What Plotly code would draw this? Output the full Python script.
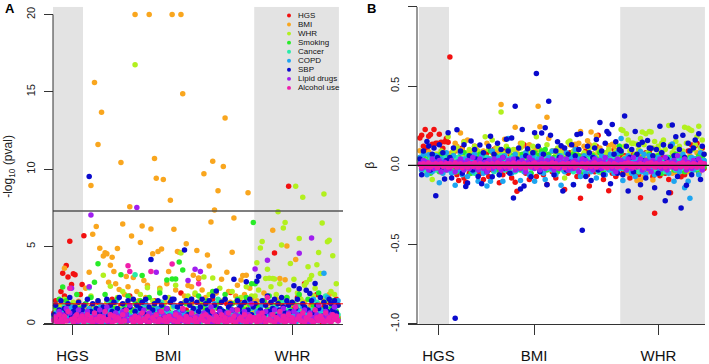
import plotly.graph_objects as go

# ---------------- data ----------------
traits = ["HGS", "BMI", "WHR", "Smoking", "Cancer", "COPD", "SBP", "Lipid drugs", "Alcohol use"]
colors = ["#F21010", "#F9A61E", "#B2F01E", "#28EB28", "#28EBAA", "#1EA5F0", "#0A0ACD", "#A01EF0", "#F01EAA"]
groups = ["HGS", "BMI", "WHR"]
group_sizes = [17, 97, 48]          # SNPs per instrument group (HGS, BMI, WHR)
y_ticks_a = [0, 5, 10, 15, 20]
y_ticks_b = [-1.0, -0.5, 0.0, 0.5, 1.0]
y_ticktext_b = ["-1.0", "-0.5", "0.0", "0.5", "1.0"]
gw_threshold = 7.3                  # -log10(5e-8)
nominal_threshold = 1.3             # -log10(0.05)

# Panel A: -log10(p) per trait, one value per SNP (HGS SNPs, BMI SNPs, WHR SNPs)
nlp_hgs = [0.7, 1.5, 0.4, 1.1, 2.1, 3.28, 1.8, 3.78, 3.03, 5.35, 2.55, 3.24, 3.18, 1.3, 0.6, 1.9, 2.55,
           5.7, 0.3, 0.9, 0.2, 1.1, 0.5, 0.1, 0.7, 1.4, 0.3,
           0.6, 0.2, 1.0, 0.4, 0.8, 0.1, 1.6, 0.3, 0.5, 0.9,
           0.2, 1.2, 0.4, 0.7, 0.1, 0.6, 1.8, 0.3, 0.9, 0.2,
           0.5, 1.3, 0.1, 0.8, 0.4, 0.6, 1.1, 0.2, 0.7, 0.3,
           1.5, 0.4, 0.2, 0.9, 0.6, 0.1, 1.0, 0.3, 0.8, 0.5,
           0.2, 1.2, 0.4, 0.7, 0.1, 2.0, 0.5, 0.3, 0.9, 0.6,
           0.2, 1.4, 0.4, 0.8, 0.1, 2.93, 0.5, 1.1, 0.3, 0.7,
           0.2, 0.9, 0.4, 1.6, 0.6, 0.1, 1.0, 0.3, 0.5, 0.8,
           0.2, 1.3, 0.4, 2.03, 0.6, 0.1, 0.9, 0.3, 1.5, 0.5,
           0.2, 1.1, 0.4, 0.7, 0.1, 1.7, 0.3,
           0.4, 1.2, 0.2, 0.8, 0.5, 1.5, 0.1, 0.6, 0.9, 0.3,
           1.1, 4.58, 0.2, 0.7, 0.4, 1.3, 0.1, 0.8, 0.5, 8.9,
           0.3, 1.0, 0.6, 0.2, 1.7, 0.4, 0.9, 0.1, 2.6, 0.5,
           0.7, 0.3, 1.2, 0.6, 0.2, 1.9, 0.4, 0.8, 0.1, 1.1,
           0.5, 0.3, 1.4, 0.2, 0.9, 0.6, 1.6, 0.4]
nlp_bmi = [0.5, 1.2, 0.3, 0.9, 0.6, 1.4, 3.6, 0.2, 0.8, 1.1, 0.4, 0.7, 1.3, 0.3, 1.46, 0.9, 0.5,
           1.1, 2.3, 0.8, 3.34, 8.95, 5.79, 15.6, 6.29, 11.6, 4.89,
           13.69, 4.39, 4.6, 4.53, 2.7, 3.8, 4.31, 3.39, 2.6, 4.87,
           2.22, 10.43, 6.46, 1.9, 3.07, 2.4, 7.57, 5.68, 3.0, 20.0,
           2.1, 1.5, 5.27, 6.33, 2.8, 1.7, 2.5, 20.0, 6.14, 4.53,
           10.7, 9.42, 4.68, 2.3, 4.85, 9.34, 1.4, 2.6, 3.39, 8.0,
           20.0, 6.12, 2.2, 4.68, 4.64, 20.0, 14.88, 1.8, 5.18, 2.49,
           1.6, 2.4, 3.15, 1.9, 4.74, 2.97, 1.3, 2.2, 9.7, 1.7,
           4.45, 3.74, 6.58, 10.51, 7.36, 2.0, 8.61, 1.5, 2.88, 10.18,
           13.31, 3.34, 2.1, 1.4, 4.64, 6.85, 1.8, 2.5, 1.2, 2.84,
           3.13, 1.9, 3.15, 8.48, 2.3, 1.6, 0.9,
           0.8, 1.5, 0.3, 1.1, 0.6, 2.0, 0.4, 0.9, 1.3, 0.2,
           6.06, 0.7, 1.6, 0.5, 2.93, 0.3, 1.0, 2.86, 5.03, 0.6,
           1.2, 0.4, 0.8, 4.16, 0.2, 1.7, 0.5, 0.9, 1.4, 0.3,
           0.7, 1.1, 0.2, 1.8, 0.6, 0.4, 1.3, 0.9, 0.3, 1.5,
           0.5, 0.8, 1.9, 0.2, 1.0, 0.6, 1.2, 0.4]
nlp_whr = [0.3, 0.8, 0.2, 1.2, 0.5, 0.9, 1.6, 0.4, 0.7, 1.0, 0.3, 1.4, 0.6, 0.2, 1.1, 0.5, 0.8,
           0.6, 1.3, 0.3, 0.9, 1.8, 0.4, 1.1, 0.2, 1.5, 0.7,
           0.5, 3.15, 0.9, 1.4, 0.3, 2.44, 0.8, 1.2, 0.4, 1.7,
           0.6, 1.0, 2.1, 0.3, 1.3, 0.5, 0.9, 1.6, 0.2, 16.76,
           1.1, 0.4, 1.9, 0.7, 0.3, 1.2, 2.34, 0.5, 0.9, 1.5,
           0.2, 1.0, 0.6, 2.2, 0.4, 1.3, 0.8, 0.3, 1.7, 0.5,
           1.1, 0.4, 2.5, 0.7, 0.2, 4.58, 0.9, 1.4, 0.3, 1.8,
           0.6, 1.2, 0.4, 2.0, 0.8, 0.3, 1.5, 0.5, 3.03, 1.0,
           0.4, 1.9, 0.7, 2.97, 0.2, 1.3, 0.6, 2.3, 0.9, 0.4,
           1.6, 0.3, 1.1, 0.7, 2.1, 0.5, 1.4, 0.2, 0.8, 1.7,
           0.4, 1.2, 2.4, 0.6, 0.9, 1.8, 1.3,
           1.8, 3.95, 2.2, 4.91, 5.33, 1.5, 2.93, 3.53, 2.95, 2.4,
           2.93, 2.9, 1.9, 7.25, 2.6, 5.1, 6.2, 6.56, 1.7, 2.2,
           3.91, 1.4, 2.88, 8.9, 2.0, 5.52, 1.6, 8.19, 2.5, 2.68,
           3.7, 2.88, 3.13, 1.8, 2.3, 3.82, 4.62, 3.26, 6.52, 8.4,
           1.5, 5.31, 5.41, 2.1, 4.41, 1.9, 2.6, 1.2]
nlp_smk = [0.4, 1.1, 0.6, 1.6, 0.2, 2.38, 0.9, 1.5, 0.3, 0.7, 1.2, 0.5, 0.8, 1.9, 0.3, 1.0, 0.6,
           0.5, 1.3, 0.2, 0.9, 1.7, 0.4, 2.7, 0.8, 3.89, 0.3,
           1.1, 0.6, 1.9, 0.2, 0.7, 1.4, 0.4, 1.0, 0.5, 1.6,
           0.3, 3.18, 0.8, 1.2, 0.2, 1.8, 0.6, 0.9, 0.4, 1.3,
           0.7, 0.2, 1.5, 3.13, 0.5, 1.0, 0.3, 1.7, 0.6, 0.9,
           1.2, 0.4, 0.8, 2.0, 0.3, 1.1, 0.5, 2.84, 0.7, 1.4,
           2.9, 0.6, 2.9, 0.2, 4.01, 0.9, 3.49, 0.4, 1.3, 0.7,
           0.3, 1.6, 0.5, 1.0, 0.2, 1.8, 0.6, 1.2, 0.4, 0.9,
           1.5, 0.3, 0.8, 2.1, 0.5, 1.1, 0.2, 1.4, 0.7, 0.4,
           1.9, 0.6, 1.0, 0.3, 1.3, 0.8, 0.2, 1.6, 0.5, 1.1,
           0.4, 0.9, 1.7, 0.3, 1.2, 2.59, 6.56,
           2.6, 0.4, 1.1, 0.7, 0.2, 1.5, 0.5, 0.9, 1.8, 0.3,
           0.6, 1.2, 0.2, 0.8, 1.4, 0.4, 1.0, 0.3, 1.7, 0.5,
           0.9, 0.2, 1.3, 0.6, 0.4, 1.9, 0.7, 0.3, 1.1, 0.5,
           1.6, 0.2, 0.8, 1.2, 0.4, 0.6, 2.0, 0.3, 0.9, 1.4,
           0.5, 0.7, 0.2, 1.0, 1.5, 0.4, 0.8, 0.3]
nlp_can = [0.2, 0.6, 0.4, 0.9, 0.1, 0.5, 1.2, 0.3, 0.7, 0.2, 0.8, 0.4, 1.0, 0.1, 0.6, 0.3, 0.5,
           0.4, 0.8, 0.1, 2.34, 0.5, 0.3, 0.9, 0.2, 0.6, 1.1,
           0.3, 0.7, 0.1, 0.5, 1.3, 0.2, 0.4, 0.8, 0.3, 0.6,
           0.1, 0.9, 0.4, 0.2, 0.7, 1.0, 0.3, 0.5, 0.1, 3.18,
           0.6, 0.2, 0.8, 0.4, 1.2, 0.3, 0.5, 0.1, 0.7, 0.4,
           0.9, 0.2, 0.6, 0.3, 1.4, 0.5, 0.1, 0.8, 0.4, 0.2,
           0.7, 1.1, 0.3, 0.5, 0.2, 0.9, 0.4, 0.6, 0.1, 1.5,
           0.3, 0.8, 0.2, 0.5, 1.0, 0.4, 0.1, 0.7, 0.3, 0.6,
           1.2, 0.2, 0.5, 0.9, 0.3, 0.4, 1.6, 0.1, 0.6, 0.8,
           0.2, 0.5, 1.1, 0.3, 0.7, 0.4, 0.1, 0.9, 0.6, 0.2,
           1.3, 0.4, 0.8, 0.3, 0.5, 1.0, 0.2,
           0.5, 0.2, 0.9, 0.4, 1.3, 0.1, 0.6, 0.3, 0.8, 0.2,
           1.1, 0.5, 0.3, 0.7, 0.1, 0.4, 1.5, 0.6, 0.2, 0.9,
           0.3, 0.8, 0.5, 0.1, 1.2, 0.4, 0.7, 0.2, 0.6, 1.0,
           0.3, 0.5, 0.9, 0.1, 0.4, 1.4, 0.2, 0.7, 0.3, 0.6,
           1.8, 0.2, 0.5, 0.8, 0.3, 1.1, 0.4, 0.6]
nlp_copd = [0.3, 0.7, 0.1, 0.5, 0.9, 0.2, 0.4, 0.8, 0.3, 0.6, 1.1, 0.2, 0.5, 0.7, 0.1, 0.4, 0.9,
            0.2, 0.6, 0.4, 1.0, 0.1, 0.5, 0.3, 0.8, 0.2, 0.7,
            1.2, 0.4, 0.1, 0.6, 0.3, 0.9, 0.2, 0.5, 1.4, 0.3,
            0.7, 0.1, 0.4, 0.8, 0.2, 0.6, 1.1, 0.3, 0.5, 0.1,
            0.9, 0.4, 0.2, 0.7, 0.3, 1.3, 0.5, 0.1, 0.6, 0.8,
            0.2, 0.4, 1.0, 0.3, 0.7, 0.1, 0.5, 0.9, 0.2, 0.6,
            0.4, 1.2, 0.3, 0.1, 0.8, 0.5, 0.2, 0.7, 1.5, 0.3,
            0.6, 0.1, 0.4, 0.9, 0.2, 0.5, 1.1, 0.3, 0.7, 0.2,
            0.4, 0.8, 0.1, 0.6, 1.3, 0.3, 0.5, 0.2, 0.9, 0.4,
            0.1, 0.7, 0.3, 1.0, 0.5, 0.2, 0.6, 0.4, 1.2, 0.1,
            0.8, 0.3, 0.5, 0.2, 1.4, 0.6, 0.4,
            0.3, 0.8, 0.1, 0.5, 1.2, 0.4, 0.2, 0.7, 0.3, 0.9,
            0.5, 0.1, 1.0, 0.4, 0.6, 0.2, 0.8, 0.3, 1.3, 0.5,
            0.2, 0.7, 0.4, 0.1, 0.9, 0.6, 0.3, 1.1, 0.2, 0.5,
            0.8, 0.4, 0.1, 1.6, 0.3, 0.6, 0.2, 0.9, 0.5, 3.28,
            0.4, 1.7, 0.2, 0.7, 0.3, 1.0, 0.5, 1.5]
nlp_sbp = [0.6, 1.2, 0.4, 0.9, 1.5, 0.3, 1.0, 0.7, 1.3, 1.71, 0.5, 0.8, 1.1, 0.4, 1.4, 0.6, 0.9,
           1.2, 0.5, 1.6, 9.53, 0.8, 1.3, 0.4, 1.0, 1.5, 0.7,
           0.3, 1.1, 0.9, 1.6, 0.5, 1.2, 0.8, 1.4, 0.6, 1.0,
           1.7, 0.4, 1.3, 0.9, 0.6, 1.5, 1.1, 0.3, 1.6, 0.8,
           1.2, 0.5, 1.0, 1.4, 0.7, 1.6, 0.4, 1.1, 4.16, 0.9,
           1.3, 0.6, 1.5, 0.8, 1.2, 0.4, 1.7, 1.0, 0.5, 1.4,
           1.6, 1.6, 0.7, 1.1, 0.3, 1.3, 0.9, 4.78, 1.5, 0.6,
           1.2, 1.6, 1.0, 0.4, 1.4, 0.8, 1.1, 1.6, 0.5, 1.3,
           0.9, 1.5, 0.7, 1.8, 1.2, 2.13, 0.6, 1.0, 1.4, 0.8,
           1.6, 0.5, 1.1, 1.3, 0.9, 2.88, 0.4, 1.5, 1.0, 1.2,
           0.7, 1.4, 2.72, 0.9, 1.6, 0.6, 1.1,
           1.3, 2.76, 3.07, 0.9, 1.5, 0.6, 1.2, 1.8, 0.8, 1.4,
           1.0, 1.6, 0.5, 1.3, 0.9, 1.7, 1.1, 0.7, 1.5, 1.2,
           0.8, 1.4, 2.47, 1.0, 1.6, 2.28, 0.6, 1.3, 1.1, 2.17,
           0.9, 1.96, 1.5, 0.7, 2.61, 1.2, 1.0, 1.7, 0.5, 1.4,
           1.1, 0.8, 1.6, 1.3, 0.9, 1.5, 0.7, 1.2]
nlp_lip = [0.3, 0.5, 0.1, 0.8, 0.2, 0.6, 0.4, 1.0, 0.2, 0.7, 2.3, 0.3, 0.5, 0.1, 0.9, 0.4, 0.6,
           0.2, 0.5, 0.8, 2.4, 7.04, 0.3, 0.6, 0.1, 0.4, 0.9,
           0.2, 0.5, 0.3, 1.1, 0.1, 0.6, 0.4, 0.2, 0.7, 0.3,
           0.5, 0.1, 0.8, 0.3, 0.6, 0.2, 1.2, 0.4, 0.1, 0.5,
           7.52, 0.3, 0.6, 0.2, 0.9, 0.4, 0.1, 0.7, 0.3, 0.5,
           0.2, 3.34, 0.4, 0.8, 0.1, 0.6, 0.3, 1.0, 0.2, 0.5,
           0.4, 0.1, 0.7, 0.3, 0.6, 0.2, 0.9, 0.4, 0.1, 2.8,
           0.3, 0.6, 0.2, 3.53, 0.5, 0.1, 3.39, 0.4, 0.7, 0.2,
           0.5, 0.3, 1.1, 0.1, 0.6, 0.4, 0.2, 0.8, 0.3, 0.5,
           0.1, 0.7, 0.4, 0.2, 0.9, 0.3, 0.6, 0.1, 0.5, 0.4,
           0.2, 0.8, 0.3, 0.6, 0.1, 1.3, 0.4,
           3.55, 0.4, 0.7, 0.2, 0.5, 0.1, 0.8, 4.12, 0.3, 0.6,
           0.2, 0.9, 0.4, 0.1, 0.6, 0.3, 1.0, 0.5, 0.2, 0.7,
           0.4, 0.1, 0.8, 0.3, 0.6, 4.56, 0.2, 0.5, 0.9, 0.3,
           0.1, 0.7, 5.56, 0.4, 0.2, 0.6, 1.2, 0.3, 0.5, 0.1,
           0.8, 0.4, 0.2, 0.6, 0.3, 1.1, 0.5, 0.2]
nlp_alc = [0.2, 0.4, 0.1, 0.6, 0.3, 0.1, 0.5, 0.2, 0.8, 2.3, 0.3, 0.1, 0.4, 0.6, 0.2, 0.3, 0.5,
           0.1, 0.3, 0.6, 0.2, 0.4, 0.1, 0.7, 0.3, 0.2, 0.5,
           0.1, 0.4, 0.8, 0.2, 0.3, 0.6, 0.1, 0.5, 0.2, 0.4,
           0.3, 0.1, 0.6, 0.2, 0.9, 3.76, 3.39, 0.3, 0.1, 0.5,
           0.2, 0.4, 0.1, 0.7, 0.3, 0.2, 0.5, 0.1, 3.39, 0.4,
           0.2, 0.6, 0.1, 0.3, 0.8, 0.2, 0.4, 0.1, 0.5, 0.3,
           3.87, 0.2, 0.6, 0.1, 0.4, 0.3, 1.0, 0.2, 0.5, 0.1,
           0.3, 0.7, 0.2, 0.4, 0.1, 2.59, 0.3, 0.5, 0.2, 0.6,
           0.1, 0.4, 0.3, 0.8, 0.2, 0.5, 0.1, 0.3, 0.6, 0.2,
           0.4, 0.1, 0.7, 0.3, 0.2, 0.5, 0.1, 0.9, 0.3, 0.4,
           0.2, 0.6, 0.1, 0.3, 0.5, 0.2, 0.4,
           0.3, 0.1, 0.5, 0.2, 0.7, 0.4, 0.1, 1.7, 0.3, 0.2,
           0.6, 0.1, 0.4, 0.3, 0.8, 0.2, 0.5, 0.1, 0.3, 0.6,
           0.2, 0.4, 0.1, 1.1, 0.3, 0.5, 0.2, 0.7, 0.1, 0.4,
           0.3, 0.6, 0.2, 0.1, 0.9, 0.4, 0.2, 0.5, 0.3, 0.1,
           0.7, 0.2, 0.4, 0.1, 0.6, 0.3, 0.5, 0.2]

# Panel B: effect size (beta) per trait, same SNP order
beta_hgs = [0.173, 0.19, 0.12, 0.226, 0.1, 0.183, 0.194, 0.133, 0.226, 0.139, 0.139, 0.196, 0.145, 0.108, 0.149, 0.169, 0.145,
            0.683, 0.05, -0.03, 0.09, -0.06, -0.096, 0.04, 0.11, -0.08, -0.106,
            0.02, -0.05, 0.07, -0.02, 0.12, -0.04, 0.03, -0.051, 0.06, -0.09,
            0.01, 0.08, -0.07, 0.04, -0.03, 0.1, -0.01, 0.05, -0.11, 0.03,
            -0.06, 0.09, 0.02, -0.04, 0.07, -0.08, 0.01, -0.106, -0.163, 0.04,
            0.06, -0.02, 0.13, -0.05, 0.03, -0.09, 0.08, -0.01, 0.05, -0.07,
            0.1, -0.03, 0.02, -0.06, 0.07, -0.12, 0.04, 0.01, -0.04, 0.09,
            -0.08, 0.03, 0.06, -0.02, 0.11, -0.153, 0.02, -0.05, 0.08, -0.01,
            0.04, 0.118, -0.07, 0.03, -0.208, 0.06, -0.03, 0.09, -0.06, -0.13,
            0.02, 0.07, -0.04, 0.12, 0.19, -0.02, 0.05, -0.09, 0.01, 0.08,
            -0.16, 0.03, -0.05, 0.1, -0.07, 0.04, 0.06,
            0.03, -0.05, 0.06, -0.02, 0.04, -0.08, 0.01, 0.07, -0.04, 0.02,
            -0.06, -0.204, 0.05, -0.03, 0.08, -0.01, 0.088, 0.03, -0.07, -0.302,
            0.04, -0.02, -0.065, 0.06, 0.01, -0.05, 0.03, -0.09, -0.173, 0.02,
            0.072, -0.04, 0.05, -0.01, -0.072, 0.03, -0.06, 0.04, 0.09, -0.03,
            0.128, 0.02, 0.124, 0.139, -0.05, 0.06, 0.11, -0.02]
beta_bmi = [0.092, 0.03, -0.02, 0.05, 0.01, 0.084, -0.04, 0.06, 0.02, -0.01, 0.07, 0.03, -0.03, 0.04, 0.08, 0.02, 0.05,
            0.04, 0.08, 0.02, 0.139, 0.12, 0.09, 0.204, 0.1, 0.15, 0.07,
            0.16, 0.08, 0.09, 0.06, 0.05, 0.1, 0.07, 0.06, 0.03, 0.09,
            0.05, 0.14, 0.1, 0.04, 0.08, 0.06, 0.11, 0.09, 0.07, 0.383,
            0.05, 0.165, 0.08, 0.1, 0.04, 0.03, 0.06, 0.24, 0.1, 0.07,
            0.14, 0.12, 0.07, 0.05, 0.08, 0.13, 0.02, 0.06, 0.09, 0.11,
            0.373, 0.243, 0.04, 0.08, 0.07, 0.304, 0.17, 0.03, 0.09, 0.05,
            0.02, 0.06, 0.08, 0.04, 0.09, 0.07, 0.03, 0.05, 0.13, 0.02,
            0.08, 0.133, 0.1, 0.14, 0.214, 0.04, 0.12, 0.06, 0.155, 0.13,
            0.21, 0.07, 0.05, 0.186, 0.08, 0.11, 0.03, 0.06, 0.02, 0.07,
            0.124, 0.05, 0.133, 0.12, 0.04, 0.03, 0.01,
            0.03, -0.02, 0.05, 0.01, -0.051, 0.04, 0.02, -0.03, 0.06, -0.096,
            0.07, -0.092, 0.02, -0.075, 0.04, 0.01, -0.04, 0.03, -0.092, 0.05,
            -0.02, 0.06, 0.01, 0.08, -0.03, 0.02, 0.05, -0.01, 0.03, -0.05,
            0.04, 0.02, -0.06, 0.07, 0.01, -0.02, 0.05, 0.03, -0.04, 0.06,
            0.02, -0.01, 0.04, 0.08, -0.035, 0.03, 0.05, 0.01]
beta_whr = [0.05, -0.02, 0.08, 0.03, -0.04, 0.06, 0.02, -0.09, 0.04, 0.07, -0.01, 0.05, 0.09, 0.02, 0.06, -0.03, 0.18,
            0.06, 0.03, 0.09, 0.05, 0.11, 0.04, 0.07, 0.02, 0.145, 0.08,
            0.05, 0.1, 0.03, 0.07, 0.12, 0.04, 0.09, 0.06, 0.02, 0.08,
            0.18, 0.05, 0.1, 0.03, 0.16, 0.07, 0.04, 0.11, 0.06, 0.336,
            0.08, 0.05, 0.12, 0.03, 0.09, 0.06, 0.1, 0.02, 0.07, 0.04,
            0.11, 0.139, 0.05, 0.08, 0.03, 0.09, 0.06, 0.12, 0.04, 0.18,
            0.07, 0.1, 0.05, 0.08, 0.02, 0.13, 0.06, 0.04, 0.09, 0.03,
            0.07, 0.11, 0.05, 0.08, 0.02, -0.08, 0.06, 0.145, 0.153, 0.04,
            0.09, 0.03, 0.07, 0.1, 0.05, 0.02, 0.08, 0.06, 0.04, 0.11,
            0.03, 0.07, 0.128, 0.05, 0.09, -0.045, 0.06, 0.04, 0.08, 0.02,
            0.1, 0.05, 0.07, 0.03, 0.09, 0.06, 0.12,
            0.226, 0.22, 0.12, 0.2, 0.16, 0.09, 0.14, 0.139, 0.07, 0.133,
            0.1, 0.17, 0.21, 0.13, 0.2, 0.08, 0.214, 0.21, 0.11, 0.15,
            0.06, 0.12, 0.09, 0.139, 0.16, 0.1, 0.05, 0.251, 0.13, 0.08,
            0.11, 0.15, 0.07, 0.12, -0.035, 0.09, 0.24, 0.14, 0.234, 0.224,
            0.22, 0.1, 0.13, 0.18, 0.247, 0.11, 0.16, 0.07]
beta_smk = [0.02, -0.03, 0.05, 0.01, -0.02, 0.04, -0.05, 0.03, 0.06, -0.01, 0.02, -0.04, 0.07, 0.01, -0.03, 0.05, 0.02,
            0.03, -0.02, 0.06, 0.01, -0.04, 0.05, 0.02, -0.03, 0.08, 0.04,
            -0.01, 0.03, -0.05, 0.06, 0.02, -0.02, 0.04, 0.07, -0.03, 0.01,
            0.05, -0.04, 0.03, 0.09, -0.01, 0.02, 0.06, -0.03, 0.04, 0.01,
            -0.02, 0.05, 0.03, 0.1, -0.04, 0.02, 0.06, -0.01, 0.04, 0.03,
            -0.03, 0.07, 0.01, -0.02, 0.05, 0.03, -0.05, 0.04, 0.08, 0.02,
            0.06, -0.01, 0.09, 0.03, 0.1, -0.03, 0.07, 0.02, -0.02, 0.05,
            0.01, -0.04, 0.06, 0.03, -0.01, 0.04, 0.02, -0.03, 0.05, 0.01,
            0.07, -0.02, 0.03, 0.06, -0.05, 0.02, 0.04, -0.01, 0.05, 0.03,
            -0.03, 0.06, 0.01, 0.04, -0.02, 0.08, 0.02, -0.04, 0.03, 0.05,
            0.01, -0.02, 0.06, 0.03, -0.01, 0.07, 0.12,
            0.08, -0.02, 0.04, 0.01, -0.03, 0.05, 0.02, -0.01, 0.06, 0.03,
            -0.04, 0.02, 0.05, -0.02, 0.03, 0.01, 0.07, -0.03, 0.04, 0.02,
            -0.01, 0.06, 0.03, -0.05, 0.02, 0.04, -0.02, 0.05, 0.01, 0.03,
            -0.03, 0.07, 0.02, -0.01, 0.04, 0.06, -0.04, 0.02, 0.03, 0.05,
            -0.02, 0.01, 0.04, -0.03, 0.06, 0.02, 0.05, -0.01]
beta_can = [0.01, 0.04, -0.02, 0.03, -0.04, 0.02, 0.05, -0.01, 0.03, -0.03, 0.01, 0.04, -0.02, 0.02, 0.05, -0.01, 0.03,
            -0.02, 0.03, 0.01, -0.04, 0.05, 0.02, -0.01, 0.04, -0.03, 0.02,
            0.06, -0.02, 0.01, 0.03, -0.05, 0.04, 0.02, -0.01, 0.03, -0.03,
            0.02, 0.05, -0.02, 0.01, 0.04, -0.04, 0.03, 0.02, -0.01, 0.06,
            0.01, -0.03, 0.04, 0.02, -0.02, 0.05, 0.01, -0.04, 0.03, 0.02,
            -0.01, 0.04, 0.02, -0.03, 0.06, 0.01, -0.02, 0.03, 0.05, -0.01,
            0.02, -0.04, 0.03, 0.01, 0.04, -0.02, 0.05, 0.02, -0.03, 0.01,
            0.04, -0.01, 0.02, 0.06, -0.03, 0.03, 0.01, -0.02, 0.04, 0.02,
            -0.04, 0.05, 0.01, -0.01, 0.03, 0.02, -0.03, 0.04, 0.01, -0.02,
            0.05, 0.02, -0.01, 0.03, -0.04, 0.01, 0.04, 0.02, -0.02, 0.03,
            0.01, -0.03, 0.05, 0.02, -0.01, 0.04, 0.02,
            0.03, -0.02, 0.01, 0.04, -0.03, 0.02, 0.05, -0.01, 0.03, 0.01,
            -0.04, 0.02, 0.04, -0.02, 0.01, 0.03, -0.01, 0.05, 0.02, -0.03,
            0.01, 0.04, -0.02, 0.03, 0.02, -0.04, 0.05, 0.01, -0.01, 0.03,
            0.02, -0.03, 0.04, 0.01, -0.02, 0.03, 0.05, -0.01, 0.02, 0.04,
            -0.03, 0.01, 0.03, -0.02, 0.04, 0.02, -0.01, 0.03]
beta_copd = [0.05, -0.03, 0.07, 0.02, -0.06, 0.067, 0.01, -0.04, 0.03, 0.06, -0.02, -0.11, 0.04, -0.05, 0.02, 0.08, -0.03,
             0.03, -0.05, 0.06, -0.126, 0.02, -0.03, 0.08, -0.06, 0.04, 0.01,
             -0.07, 0.05, 0.02, -0.04, 0.07, -0.02, -0.1, 0.03, 0.06, -0.05,
             0.01, -0.13, 0.04, -0.1, 0.09, -0.03, 0.02, 0.05, -0.06, 0.03,
             -0.1, 0.06, -0.02, 0.169, 0.04, -0.05, 0.01, 0.07, -0.03, 0.02,
             -0.096, 0.05, -0.04, 0.08, 0.01, -0.06, 0.03, 0.06, -0.1, 0.02,
             0.04, -0.03, 0.07, -0.05, -0.09, 0.02, 0.05, -0.02, 0.09, 0.01,
             -0.06, 0.03, 0.06, -0.126, 0.02, -0.04, 0.08, 0.01, -0.03, 0.05,
             -0.12, 0.1, -0.02, 0.04, -0.07, 0.03, 0.06, -0.05, 0.02, 0.07,
             -0.04, 0.01, 0.05, -0.08, 0.03, -0.02, 0.06, 0.02, -0.06, 0.04,
             -0.03, 0.07, 0.01, -0.05, 0.03, 0.08, -0.02,
             0.169, -0.096, 0.04, -0.03, 0.06, 0.02, -0.05, 0.03, -0.07, 0.05,
             0.01, 0.088, -0.04, 0.07, -0.055, 0.03, 0.06, -0.02, 0.04, -0.06,
             0.02, 0.05, -0.03, 0.08, 0.128, -0.01, 0.04, -0.05, 0.03, 0.134,
             -0.1, 0.02, 0.06, -0.04, 0.03, 0.07, -0.141, 0.01, -0.1, -0.208,
             0.05, -0.03, 0.04, 0.02, -0.06, 0.08, -0.02, 0.03]
beta_sbp = [0.04, -0.06, 0.09, 0.02, 0.15, 0.122, -0.03, 0.07, 0.11, -0.191, 0.05, 0.13, -0.02, 0.08, -0.086, 0.03, 0.206,
            0.05, -0.08, 0.11, -0.964, 0.224, 0.02, 0.09, -0.05, 0.13, -0.133,
            -0.112, 0.06, 0.153, -0.03, 0.1, 0.04, -0.07, 0.128, -0.116, 0.08,
            0.03, -0.04, 0.12, 0.183, -0.072, 0.07, 0.02, 0.139, -0.06, 0.1,
            0.05, -0.02, 0.165, 0.09, -0.05, 0.173, -0.206, 0.373, 0.04, 0.11,
            -0.149, 0.226, -0.13, 0.06, 0.104, 0.02, -0.072, 0.08, 0.206, 0.579,
            0.12, -0.04, 0.204, 0.07, 0.237, -0.122, 0.405, 0.19, 0.03, -0.06,
            0.09, 0.149, 0.05, 0.124, -0.161, 0.11, -0.03, 0.07, 0.02, 0.13,
            -0.122, 0.06, 0.194, 0.1, 0.2, -0.41, 0.04, -0.07, 0.12, 0.08,
            -0.096, 0.05, 0.11, 0.163, -0.03, 0.271, 0.09, -0.06, 0.14, 0.214,
            0.2, -0.116, 0.257, 0.07, 0.149, -0.05, 0.1,
            0.09, -0.06, 0.312, 0.12, -0.161, 0.05, 0.1, -0.04, 0.214, 0.07,
            0.13, -0.122, 0.145, 0.03, -0.08, 0.157, 0.11, 0.108, 0.06, -0.141,
            0.1, -0.05, 0.247, 0.08, 0.13, -0.224, 0.04, -0.173, 0.12, 0.255,
            0.06, 0.18, -0.07, 0.1, -0.269, 0.19, 0.05, -0.126, 0.14, 0.09,
            -0.06, 0.11, 0.16, 0.03, 0.2, -0.09, 0.12, 0.07]
beta_lip = [0.01, -0.02, 0.03, -0.01, 0.02, -0.03, 0.01, 0.04, -0.02, 0.02, -0.01, 0.03, -0.04, 0.01, 0.02, -0.03, 0.01,
            -0.02, 0.03, 0.01, -0.04, 0.02, -0.01, 0.04, 0.02, -0.03, 0.01,
            0.03, -0.02, 0.01, 0.05, -0.01, 0.02, -0.03, 0.04, 0.01, -0.02,
            0.02, -0.04, 0.03, 0.01, -0.02, 0.04, 0.02, -0.01, 0.03, -0.03,
            0.05, 0.01, -0.02, 0.03, -0.01, 0.02, 0.04, -0.03, 0.01, 0.02,
            -0.02, 0.03, 0.01, -0.04, 0.02, 0.05, -0.01, 0.03, -0.02, 0.01,
            0.02, -0.03, 0.04, 0.01, -0.02, 0.03, 0.01, -0.01, 0.04, -0.03,
            0.01, 0.03, -0.02, 0.05, 0.02, -0.01, 0.04, -0.03, 0.01, 0.02,
            -0.02, 0.03, 0.01, -0.04, 0.02, 0.04, -0.01, 0.03, -0.02, 0.01,
            0.02, -0.03, 0.04, 0.01, -0.01, 0.03, -0.02, 0.02, 0.05, -0.01,
            0.01, 0.03, -0.02, 0.02, -0.04, 0.04, 0.01,
            0.03, -0.01, 0.02, -0.03, 0.04, 0.01, -0.02, 0.05, 0.01, -0.01,
            0.02, 0.04, -0.03, 0.01, 0.03, -0.02, 0.02, -0.04, 0.03, 0.01,
            -0.01, 0.02, 0.04, -0.02, 0.01, 0.05, -0.03, 0.02, 0.01, -0.01,
            0.03, -0.02, 0.06, 0.01, -0.01, 0.02, 0.04, -0.03, 0.02, 0.01,
            -0.02, 0.03, 0.01, -0.01, 0.04, 0.02, -0.03, 0.01]
beta_alc = [0.005, -0.01, 0.01, 0.0, -0.005, 0.015, -0.01, 0.005, 0.0, 0.01, -0.015, 0.005, 0.01, -0.005, 0.0, 0.01, -0.01,
            0.01, -0.005, 0.0, 0.015, -0.01, 0.005, 0.01, -0.015, 0.0, 0.005,
            -0.01, 0.01, 0.005, -0.005, 0.015, 0.0, -0.01, 0.01, 0.005, -0.005,
            0.0, 0.01, -0.015, 0.005, 0.01, -0.005, 0.0, 0.015, -0.01, 0.005,
            0.01, -0.005, 0.0, 0.01, -0.01, 0.005, 0.015, -0.005, 0.0, 0.01,
            -0.01, 0.005, 0.01, -0.015, 0.0, 0.005, -0.005, 0.01, 0.015, -0.01,
            0.005, 0.0, 0.01, -0.005, 0.01, -0.01, 0.005, 0.0, 0.015, -0.005,
            0.01, -0.01, 0.0, 0.005, 0.01, -0.015, 0.005, 0.01, -0.005, 0.0,
            0.015, -0.01, 0.005, 0.0, -0.005, 0.01, 0.005, -0.01, 0.01, 0.0,
            -0.005, 0.01, 0.015, -0.01, 0.005, 0.0, 0.01, -0.005, 0.005, -0.015,
            0.01, 0.0, -0.005, 0.01, 0.005, -0.01, 0.0,
            0.005, -0.01, 0.01, 0.0, 0.015, -0.005, 0.01, -0.01, 0.005, 0.0,
            -0.005, 0.01, 0.005, -0.015, 0.0, 0.01, -0.005, 0.015, 0.005, -0.01,
            0.01, 0.0, -0.005, 0.01, 0.005, -0.01, 0.015, 0.0, -0.005, 0.01,
            0.005, -0.01, 0.0, 0.01, -0.005, 0.015, 0.005, -0.01, 0.01, 0.0,
            -0.005, 0.01, 0.005, -0.01, 0.0, 0.015, -0.005, 0.01]

nlp_series = [nlp_hgs, nlp_bmi, nlp_whr, nlp_smk, nlp_can, nlp_copd, nlp_sbp, nlp_lip, nlp_alc]
beta_series = [beta_hgs, beta_bmi, beta_whr, beta_smk, beta_can, beta_copd, beta_sbp, beta_lip, beta_alc]

# ---------------- layout helpers ----------------
W, H = 709, 364
FONT = "Liberation Sans, Arial, Helvetica, sans-serif"
AXC = "#333333"
GRAY = "#E3E3E3"
PXU = 1.765   # pixels per SNP along x

def px(x):
    return x / W

def py(y):
    return 1 - y / H

edges = [0.5]
for s in group_sizes:
    edges.append(edges[-1] + s)
group_tick_pos = [11.5, 65.7, 136.2]

fig = go.Figure()

for name, col, ys in zip(traits, colors, nlp_series):
    fig.add_trace(go.Scatter(x=list(range(1, len(ys) + 1)), y=ys, mode="markers",
                             marker=dict(color=col, size=5.5, line=dict(width=0)),
                             name=name, showlegend=False, cliponaxis=False,
                             xaxis="x", yaxis="y"))
for name, col, ys in zip(traits, colors, beta_series):
    fig.add_trace(go.Scatter(x=list(range(1, len(ys) + 1)), y=ys, mode="markers",
                             marker=dict(color=col, size=5.5, line=dict(width=0)),
                             name=name, showlegend=False, cliponaxis=False,
                             xaxis="x2", yaxis="y2"))

ydom = [py(334), py(7)]
shapes = []
for xr, yr, y0, y1 in [("x", "y", 0, 20.5), ("x2", "y2", -1, 1)]:
    for gi in (0, 2):
        shapes.append(dict(type="rect", xref=xr, yref=yr, x0=edges[gi], x1=edges[gi + 1],
                           y0=y0, y1=y1, fillcolor=GRAY, line=dict(width=0), layer="below"))
shapes.append(dict(type="line", xref="paper", yref="y", x0=px(53), x1=px(343), y0=gw_threshold, y1=gw_threshold,
                   line=dict(color="#555555", width=1.6)))
shapes.append(dict(type="line", xref="paper", yref="y", x0=px(53), x1=px(343), y0=nominal_threshold, y1=nominal_threshold,
                   line=dict(color="#FF0000", width=1)))
shapes.append(dict(type="line", xref="paper", yref="y2", x0=px(408), x1=px(709), y0=0, y1=0,
                   line=dict(color="#111111", width=1.4)))
shapes.append(dict(type="line", xref="paper", yref="y", x0=px(53), x1=px(53), y0=0, y1=20,
                   line=dict(color=AXC, width=1)))
shapes.append(dict(type="line", xref="paper", yref="y2", x0=px(417), x1=px(417), y0=-1, y1=1,
                   line=dict(color=AXC, width=1)))

annotations = []
annotations.append(dict(text="<b>A</b>", x=px(10), y=py(9), xref="paper", yref="paper", showarrow=False,
                        font=dict(family=FONT, size=13, color="black"), xanchor="center", yanchor="middle"))
annotations.append(dict(text="<b>B</b>", x=px(371), y=py(9), xref="paper", yref="paper", showarrow=False,
                        font=dict(family=FONT, size=13, color="black"), xanchor="center", yanchor="middle"))
annotations.append(dict(text="-log<sub>10</sub> (pval)", x=px(9), y=py(172), xref="paper", yref="paper",
                        showarrow=False, textangle=-90, font=dict(family=FONT, size=12, color="#222"),
                        xanchor="center", yanchor="middle"))
annotations.append(dict(text="β", x=px(370), y=py(171), xref="paper", yref="paper",
                        showarrow=False, textangle=-90, font=dict(family=FONT, size=12, color="#222"),
                        xanchor="center", yanchor="middle"))
leg_x, leg_y0, leg_dy = 289, 16, 9.33
for i, (name, col) in enumerate(zip(traits, colors)):
    yy = leg_y0 + i * leg_dy
    shapes.append(dict(type="circle", xref="paper", yref="paper", x0=px(leg_x - 2), x1=px(leg_x + 2),
                       y0=py(yy + 2), y1=py(yy - 2), fillcolor=col, line=dict(width=0)))
    annotations.append(dict(text=name, x=px(leg_x + 7), y=py(yy), xref="paper", yref="paper",
                            showarrow=False, xanchor="left", yanchor="middle",
                            font=dict(family=FONT, size=8, color="#111")))

common_x = dict(showgrid=False, zeroline=False, showline=True, linecolor=AXC, linewidth=1,
                ticks="outside", ticklen=10, tickcolor=AXC, tickwidth=1, ticklabelstandoff=8,
                tickvals=group_tick_pos, ticktext=groups,
                tickfont=dict(family=FONT, size=15, color="#111"))
common_y = dict(showgrid=False, zeroline=False, showline=False,
                ticks="outside", ticklen=9, tickcolor=AXC, tickwidth=1, tickangle=-90,
                ticklabelstandoff=5,
                tickfont=dict(family=FONT, size=11, color="#222"))

fig.update_layout(
    width=W, height=H, margin=dict(l=0, r=0, t=0, b=0),
    paper_bgcolor="white", plot_bgcolor="rgba(0,0,0,0)",
    showlegend=False, hovermode=False,
    xaxis=dict(common_x, domain=[px(43), px(343)],
               range=[0.5 - (53 - 43) / PXU, 0.5 + (343 - 53) / PXU], anchor="y"),
    yaxis=dict(common_y, domain=ydom, range=[0, 20.5], tickvals=y_ticks_a,
               ticktext=[str(v) for v in y_ticks_a], anchor="free", position=px(53)),
    xaxis2=dict(common_x, domain=[px(408), px(705)],
                range=[0.5 - (419 - 408) / PXU, 0.5 + (705 - 419) / PXU], anchor="y2"),
    yaxis2=dict(common_y, domain=ydom, range=[-1, 1], tickvals=y_ticks_b, ticktext=y_ticktext_b,
                anchor="free", position=px(417)),
    shapes=shapes, annotations=annotations,
)

fig.write_html("out.html", config={"displayModeBar": False},
               post_script="document.body.style.margin='0px';")
